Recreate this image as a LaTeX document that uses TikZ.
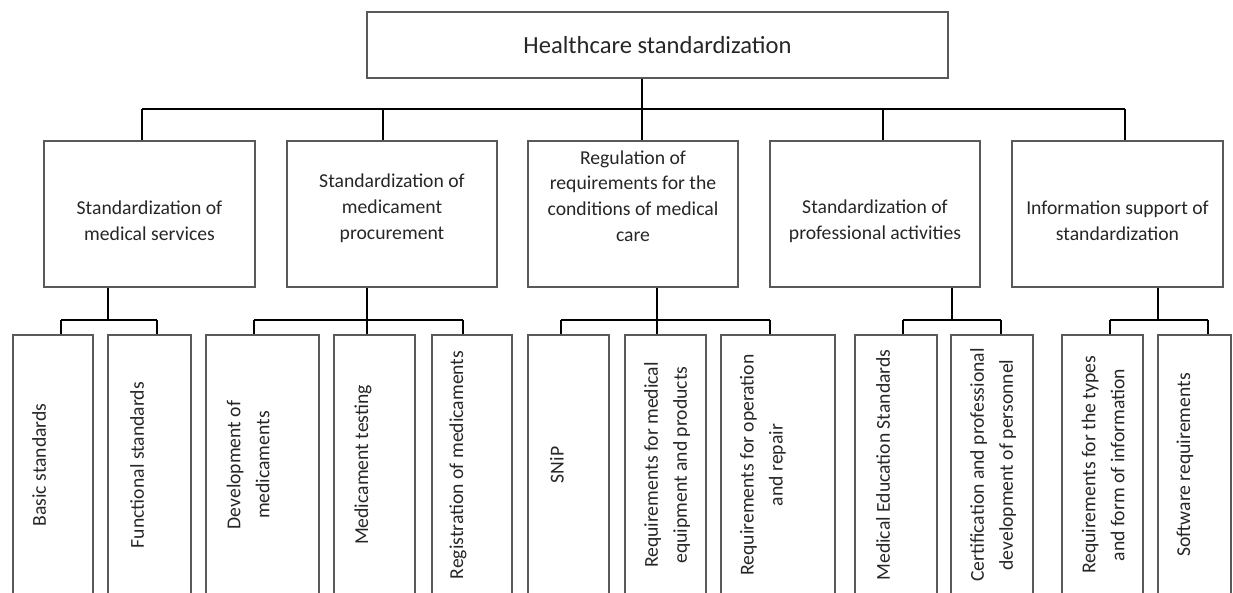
\documentclass[tikz,border=0pt]{standalone}
\usepackage{fontspec}
\setmainfont{Carlito}

\begin{document}
\begin{tikzpicture}[x=0.02cm, y=-0.02cm,
	box/.style={draw=black!65, line width=0.9pt, inner sep=0pt},
	leaf/.style={box, minimum height=5.7cm},
	conn/.style={line width=1pt, black},
	txt/.style={align=center, text=black!85, font=\fontsize{11.2}{14.7}\selectfont},
	vtxt/.style={txt, rotate=90, font=\fontsize{11.2}{16.5}\selectfont}]
	% \draw [step=50, gray, very thin] (0, 0) grid (1233, 592);
	\useasboundingbox (0,0) rectangle (1233,592);
	\clip (0,0) rectangle (1233,592);

	% top
	\node [box, minimum width=11.62cm, minimum height=1.32cm, text=black!85, font=\fontsize{14}{17}\selectfont] (hs) at (657.5,45) {Healthcare standardization};

	% second level
	\node [box, minimum width=4.22cm, minimum height=2.92cm] (smed) at (149.5,214) {};
	\node [box, minimum width=4.2cm, minimum height=2.92cm] (sproc) at (392,214) {};
	\node [box, minimum width=4.2cm, minimum height=2.92cm] (sreg) at (633,214) {};
	\node [box, minimum width=4.2cm, minimum height=2.92cm] (sprof) at (875,214) {};
	\node [box, minimum width=4.22cm, minimum height=2.92cm] (sinfo) at (1117.5,214) {};
	\node [txt] (smed-t) at (149.5,221) {Standardization of\\medical services};
	\node [txt] (sproc-t) at (392,208) {Standardization of\\medicament\\procurement};
	\node [txt] (sreg-t) at (633,196) {Regulation of\\requirements for the\\conditions of medical\\care};
	\node [txt] (sprof-t) at (875,221) {Standardization of\\professional activities};
	\node [txt] (sinfo-t) at (1117.5,221) {Information support of\\standardization};

	% leaves
	\node [leaf, minimum width=1.6cm] (basic) at (53,477.5) {};
	\node [leaf, minimum width=1.66cm] (funct) at (149.5,477.5) {};
	\node [leaf, minimum width=2.26cm] (devel) at (262.5,477.5) {};
	\node [leaf, minimum width=1.62cm] (test) at (374.5,477.5) {};
	\node [leaf, minimum width=1.6cm] (regist) at (472,477.5) {};
	\node [leaf, minimum width=1.62cm] (snip) at (568.5,477.5) {};
	\node [leaf, minimum width=1.62cm] (equip) at (665.5,477.5) {};
	\node [leaf, minimum width=2.28cm] (repair) at (778,477.5) {};
	\node [leaf, minimum width=1.64cm] (educ) at (896,477.5) {};
	\node [leaf, minimum width=1.64cm] (certif) at (992,477.5) {};
	\node [leaf, minimum width=1.62cm] (types) at (1102.5,477.5) {};
	\node [leaf, minimum width=1.46cm] (softw) at (1194.5,477.5) {};

	\node [vtxt] (basic-t) at (39,465) {Basic standards};
	\node [vtxt] (funct-t) at (137,465) {Functional standards};
	\node [vtxt] (devel-t) at (248,465) {Development of\\medicaments};
	\node [vtxt] (test-t) at (363,465) {Medicament testing};
	\node [vtxt] (regist-t) at (458,465) {Registration of medicaments};
	\node [vtxt] (snip-t) at (557,465) {SNiP};
	\node [vtxt] (equip-t) at (667,465) {Requirements for medical\\equipment and products};
	\node [vtxt] (repair-t) at (763,465) {Requirements for operation\\and repair};
	\node [vtxt] (educ-t) at (883,465) {Medical Education Standards};
	\node [vtxt] (certif-t) at (993,465) {Certification and professional\\development of personnel};
	\node [vtxt] (types-t) at (1103,465) {Requirements for the types\\and form of information};
	\node [vtxt] (softw-t) at (1185,465) {Software requirements};

	% connectors, top bar
	\coordinate (j1) at (142,109);
	\coordinate (j2) at (383,109);
	\coordinate (j3) at (642,109);
	\coordinate (j4) at (883,109);
	\coordinate (j5) at (1125,109);
	\draw [conn] (hs.south -| j3) -- (j3 |- sreg.north);
	\draw [conn] (j1) -- (j5);
	\foreach \j/\n in {j1/smed, j2/sproc, j4/sprof, j5/sinfo}
		\draw [conn] (\j) -- (\j |- \n.north);

	% connectors, lower bars
	\foreach \x/\n in {61/basic, 157/funct, 254/devel, 367/test, 463/regist, 561/snip, 657/equip, 770/repair, 903/educ, 1001/certif, 1110/types, 1208/softw} {
		\coordinate (d-\n) at (\x,320);
		\draw [conn] (d-\n) -- (d-\n |- \n.north);
	}
	\coordinate (k1) at (108,320);
	\coordinate (k4) at (952,320);
	\coordinate (k5) at (1158,320);
	\draw [conn] (smed.south -| k1) -- (k1);
	\draw [conn] (sproc.south -| d-test) -- (d-test);
	\draw [conn] (sreg.south -| d-equip) -- (d-equip);
	\draw [conn] (sprof.south -| k4) -- (k4);
	\draw [conn] (sinfo.south -| k5) -- (k5);
	\draw [conn] (d-basic) -- (d-funct);
	\draw [conn] (d-devel) -- (d-regist);
	\draw [conn] (d-snip) -- (d-repair);
	\draw [conn] (d-educ) -- (d-certif);
	\draw [conn] (d-types) -- (d-softw);
\end{tikzpicture}
\end{document}
